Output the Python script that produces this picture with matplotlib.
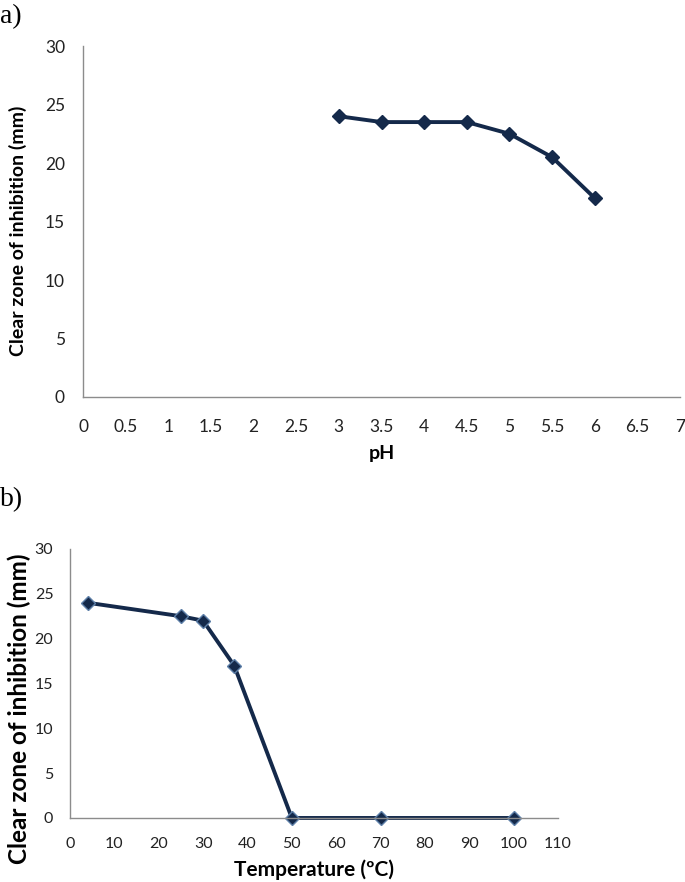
import matplotlib.pyplot as plt

ph = [3, 3.5, 4, 4.5, 5, 5.5, 6]
ph_zone = [24, 23.5, 23.5, 23.5, 22.5, 20.5, 17]
temp = [4, 25, 30, 37, 50, 70, 100]
temp_zone = [24, 22.5, 22, 17, 0, 0, 0]
ph_ticks = [0, 0.5, 1, 1.5, 2, 2.5, 3, 3.5, 4, 4.5, 5, 5.5, 6, 6.5, 7]
ph_ticklabels = ["0", "0.5", "1", "1.5", "2", "2.5", "3", "3.5", "4", "4.5", "5", "5.5", "6", "6.5", "7"]
temp_ticks = list(range(0, 111, 10))
y_ticks = [0, 5, 10, 15, 20, 25, 30]

plt.rcParams["font.family"] = ["Lato", "DejaVu Sans"]
line_color = "#14294a"
spine_color = "#8c8c8c"

fig = plt.figure(figsize=(6.85, 8.82), dpi=100)


def style_axes(ax, tick_size):
    for side in ("top", "right"):
        ax.spines[side].set_visible(False)
    for side in ("left", "bottom"):
        ax.spines[side].set_color(spine_color)
        ax.spines[side].set_linewidth(1.0)
    ax.tick_params(length=0, labelsize=tick_size, colors="#222222")


# panel a
ax1 = fig.add_axes([0.1212, 0.5499, 0.8715, 0.3979])
ax1.plot(ph, ph_zone, color=line_color, linewidth=2.8, marker="D", markersize=7.5,
         markerfacecolor=line_color, markeredgecolor=line_color, clip_on=False)
ax1.set_xlim(0, 7)
ax1.set_ylim(0, 30)
ax1.set_xticks(ph_ticks)
ax1.set_xticklabels(ph_ticklabels)
ax1.set_yticks(y_ticks)
style_axes(ax1, 12.5)
ax1.tick_params(axis="x", pad=16)
ax1.tick_params(axis="y", pad=13)
ax1.set_xlabel("pH", fontsize=14, fontweight="bold", labelpad=7)
ax1.set_ylabel("Clear zone of inhibition (mm)", fontsize=14, fontweight="bold")
ax1.yaxis.set_label_coords(-0.094, 0.473)

# panel b
ax2 = fig.add_axes([0.1022, 0.0726, 0.7124, 0.3050])
ax2.plot(temp, temp_zone, color=line_color, linewidth=2.8, marker="D", markersize=7.5,
         markerfacecolor=line_color, markeredgecolor="#5d7fa8", markeredgewidth=1.0, clip_on=False)
ax2.set_xlim(0, 110)
ax2.set_ylim(0, 30)
ax2.set_xticks(temp_ticks)
ax2.set_yticks(y_ticks)
style_axes(ax2, 11.5)
ax2.tick_params(axis="x", pad=14)
ax2.tick_params(axis="y", pad=12)
ax2.set_xlabel("Temperature (ºC)", fontsize=15, fontweight="bold", labelpad=6)
ax2.set_ylabel("Clear zone of inhibition (mm)", fontsize=17.5, fontweight="bold")
ax2.yaxis.set_label_coords(-0.08, 0.407)

fig.text(0.0, 0.995, "a)", family="Liberation Serif", fontsize=20, va="top", ha="left")
fig.text(0.0, 0.448, "b)", family="Liberation Serif", fontsize=20, va="top", ha="left")

fig.savefig("out.png", dpi=100, facecolor="white")
